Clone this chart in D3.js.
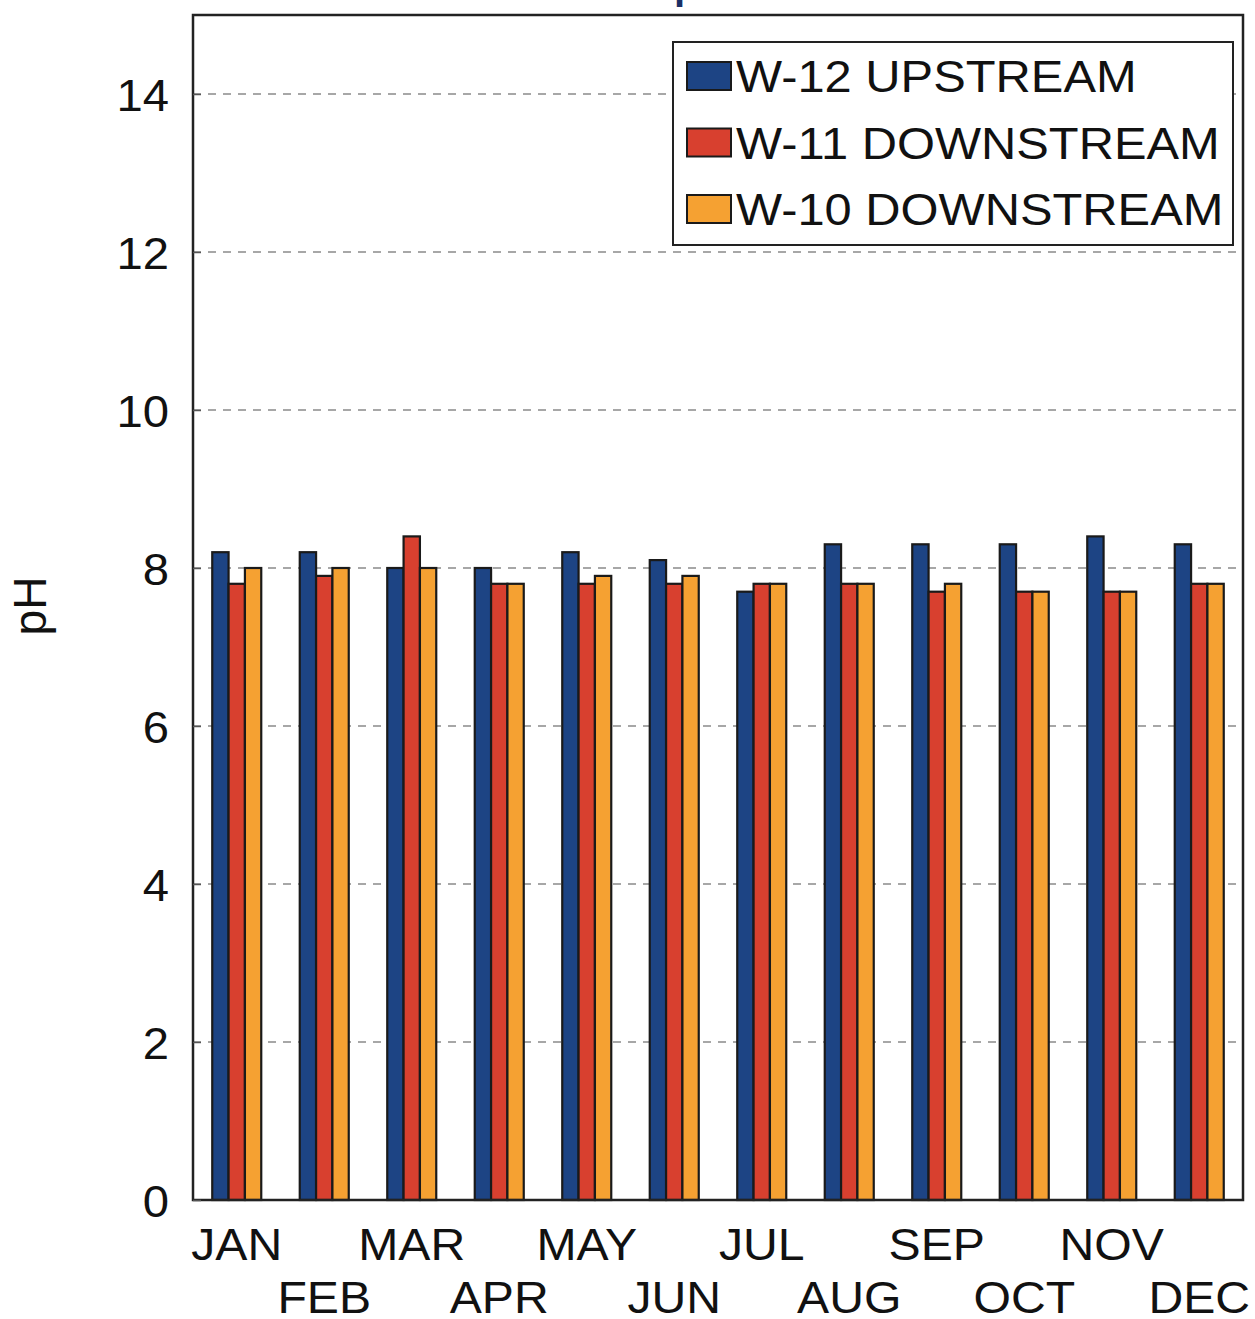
<!DOCTYPE html>
<html>
<head>
<meta charset="utf-8">
<script src="https://cdn.jsdelivr.net/npm/d3@7"></script>
<style>
  body { margin: 0; background: #fff; }
  svg text { font-family: "Liberation Sans", Arial, sans-serif; fill: #111; }
</style>
</head>
<body>
<div id="chart"></div>
<script>
// monthly pH readings per station
var months = ["JAN", "FEB", "MAR", "APR", "MAY", "JUN", "JUL", "AUG", "SEP", "OCT", "NOV", "DEC"];
var seriesNames = ["W-12 UPSTREAM", "W-11 DOWNSTREAM", "W-10 DOWNSTREAM"];
var w12 = [8.2, 8.2, 8.0, 8.0, 8.2, 8.1, 7.7, 8.3, 8.3, 8.3, 8.4, 8.3];
var w11 = [7.8, 7.9, 8.4, 7.8, 7.8, 7.8, 7.8, 7.8, 7.7, 7.7, 7.7, 7.8];
var w10 = [8.0, 8.0, 8.0, 7.8, 7.9, 7.9, 7.8, 7.8, 7.8, 7.7, 7.7, 7.8];
var yTicks = [0, 2, 4, 6, 8, 10, 12, 14];
var colors = ["#1d4484", "#d8402f", "#f5a132"];

var seriesValues = [w12, w11, w10];

var margin = { top: 15, right: 12, bottom: 119, left: 193 },
    totalW = 1255, totalH = 1319,
    width = totalW - margin.left - margin.right,
    height = totalH - margin.top - margin.bottom;

// the scanned text runs a bit wider than the font
function widen(sel, k) {
    sel.each(function () {
        var len = this.getComputedTextLength();
        d3.select(this).attr("textLength", len * k).attr("lengthAdjust", "spacingAndGlyphs");
    });
}

var svg = d3.select("#chart").append("svg")
    .attr("width", totalW)
    .attr("height", totalH);

// title, mostly cut off above the picture
svg.append("text")
    .attr("x", 674)
    .attr("y", -1)
    .style("font-size", "40px")
    .style("font-weight", "bold")
    .style("fill", "#1a2f66")
    .text("pH");

var g = svg.append("g")
    .attr("transform", "translate(" + margin.left + "," + margin.top + ")");

var x = d3.scaleBand().domain(months).range([0, width]).paddingInner(0).paddingOuter(0);
var x1 = d3.scaleBand().domain(d3.range(3)).range([x.bandwidth() * 0.22, x.bandwidth() * 0.78]);
var y = d3.scaleLinear().domain([0, 15]).range([height, 0]);

// dashed grid
g.selectAll(".grid")
    .data(yTicks.filter(function (d) { return d > 0; }))
    .enter().append("line")
    .attr("class", "grid")
    .attr("x1", 0)
    .attr("x2", width)
    .attr("y1", function (d) { return y(d); })
    .attr("y2", function (d) { return y(d); })
    .style("stroke", "#8a8a8a")
    .style("stroke-width", 1.5)
    .style("stroke-dasharray", "8,7");

// bars
var groups = g.selectAll(".month")
    .data(months)
    .enter().append("g")
    .attr("class", "month")
    .attr("transform", function (d) { return "translate(" + x(d) + ",0)"; });

groups.selectAll("rect")
    .data(function (m, i) {
        return seriesValues.map(function (s, k) { return { k: k, value: s[i] }; });
    })
    .enter().append("rect")
    .attr("x", function (d) { return x1(d.k); })
    .attr("width", x1.bandwidth())
    .attr("y", function (d) { return y(d.value); })
    .attr("height", function (d) { return height - y(d.value); })
    .style("fill", function (d) { return colors[d.k]; })
    .style("stroke", "#1a1a1a")
    .style("stroke-width", 2.2);

// frame
g.append("rect")
    .attr("width", width)
    .attr("height", height)
    .style("fill", "none")
    .style("stroke", "#222")
    .style("stroke-width", 2.5);

// y axis
var yAxis = d3.axisLeft(y).tickValues(yTicks).tickSize(-8).tickPadding(24);
var yg = g.append("g").call(yAxis);
yg.select(".domain").remove();
yg.selectAll("line").style("stroke", "#555").style("stroke-width", 1.5);
yg.selectAll("text").style("font-size", "45px").attr("dy", "0.36em");
widen(yg.selectAll("text"), 1.05);

svg.append("text")
    .attr("transform", "translate(46,606) rotate(-90)")
    .style("text-anchor", "middle")
    .style("font-size", "46px")
    .text("pH");

// x labels, staggered in two rows
var xAxis = d3.axisBottom(x).tickSize(0).tickPadding(0);
var xg = g.append("g").attr("transform", "translate(0," + height + ")").call(xAxis);
xg.select(".domain").remove();
xg.selectAll("text")
    .style("font-size", "45px")
    .attr("dy", null)
    .attr("y", function (d, i) { return i % 2 === 0 ? 60 : 113; });
widen(xg.selectAll("text"), 1.07);

// legend
var legend = svg.append("g").attr("transform", "translate(673,42)");
legend.append("rect")
    .attr("width", 560)
    .attr("height", 203)
    .style("fill", "#fff")
    .style("stroke", "#222")
    .style("stroke-width", 2);

var item = legend.selectAll(".item")
    .data(seriesNames)
    .enter().append("g")
    .attr("class", "item")
    .attr("transform", function (d, i) { return "translate(0," + (i * 66.5) + ")"; });

item.append("rect")
    .attr("x", 14)
    .attr("y", 20)
    .attr("width", 44)
    .attr("height", 28)
    .style("fill", function (d, i) { return colors[i]; })
    .style("stroke", "#1a1a1a")
    .style("stroke-width", 2);

item.append("text")
    .attr("x", 63)
    .attr("y", 50)
    .style("font-size", "45px")
    .text(function (d) { return d; });
widen(item.selectAll("text"), 1.085);
</script>
</body>
</html>
